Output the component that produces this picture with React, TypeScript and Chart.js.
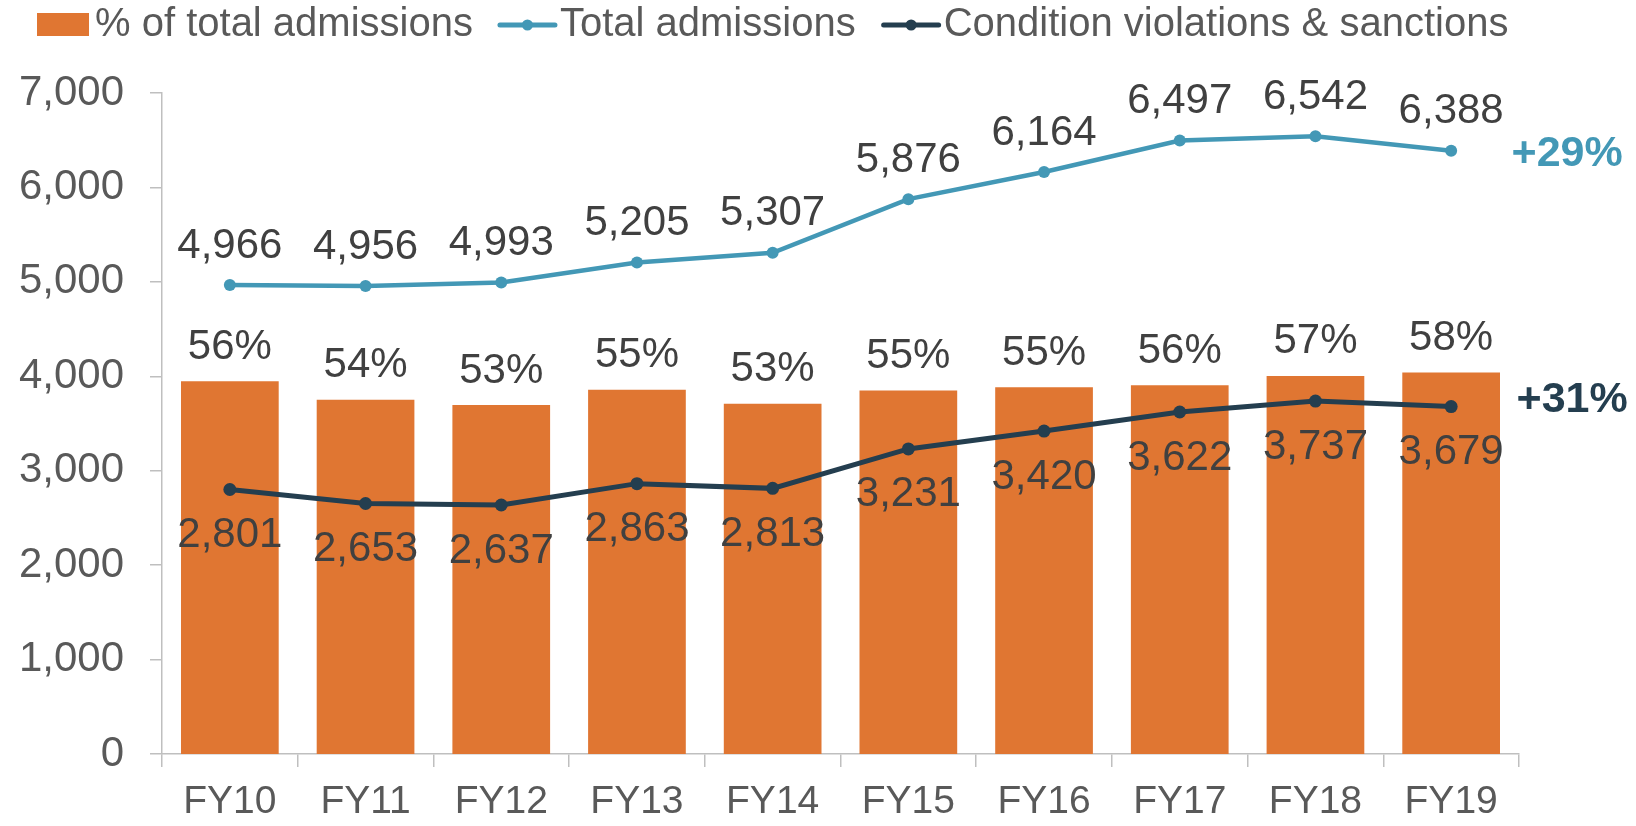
import React, { useEffect, useRef } from "react";
import { Chart, registerables } from "chart.js";

Chart.register(...registerables);

const categories = ["FY10", "FY11", "FY12", "FY13", "FY14", "FY15", "FY16", "FY17", "FY18", "FY19"];
const pctValues = [56.4, 53.6, 52.8, 55.1, 53.0, 55.0, 55.5, 55.8, 57.2, 57.7];
const pctLabels = ["56%", "54%", "53%", "55%", "53%", "55%", "55%", "56%", "57%", "58%"];
const totalAdmissions = [4966, 4956, 4993, 5205, 5307, 5876, 6164, 6497, 6542, 6388];
const violations = [2801, 2653, 2637, 2863, 2813, 3231, 3420, 3622, 3737, 3679];
const changeTotal = "+29%";
const changeViolations = "+31%";
const seriesNames = ["% of total admissions", "Total admissions", "Condition violations & sanctions"];

const ORANGE = "#E07632";
const TEAL = "#4398B6";
const NAVY = "#243E4F";
const LABEL = "#404040";
const TICK = "#595959";
const AXIS = "#BFBFBF";
const FONT = '"Liberation Sans", Arial, sans-serif';

const fmt = (v: number) => v.toLocaleString("en-US");

const labelPlugin = {
  id: "labels",
  afterDatasetsDraw(chart: any) {
    const ctx = chart.ctx;
    ctx.save();
    ctx.textAlign = "center";
    ctx.textBaseline = "middle";
    ctx.font = `42px ${FONT}`;
    ctx.fillStyle = LABEL;
    const bars = chart.getDatasetMeta(0).data;
    bars.forEach((el: any, i: number) => ctx.fillText(pctLabels[i], el.x, el.y - 34));
    const viol = chart.getDatasetMeta(2).data;
    viol.forEach((el: any, i: number) => ctx.fillText(fmt(violations[i]), el.x, el.y + 46));
    const tot = chart.getDatasetMeta(1).data;
    tot.forEach((el: any, i: number) => ctx.fillText(fmt(totalAdmissions[i]), el.x, el.y - 39));
    ctx.font = `bold 43px ${FONT}`;
    const lt = tot[tot.length - 1];
    ctx.fillStyle = TEAL;
    ctx.fillText(changeTotal, lt.x + 116, lt.y + 3);
    const lv = viol[viol.length - 1];
    ctx.fillStyle = NAVY;
    ctx.fillText(changeViolations, lv.x + 121, lv.y - 6);
    ctx.restore();
  },
  afterDraw(chart: any) {
    const ctx = chart.ctx;
    ctx.save();
    ctx.font = `40px ${FONT}`;
    ctx.textBaseline = "middle";
    ctx.textAlign = "left";
    const cy = 25;
    let x = 37;
    ctx.fillStyle = ORANGE;
    ctx.fillRect(x, cy - 12, 52, 23);
    x += 52 + 6;
    ctx.fillStyle = TICK;
    ctx.fillText(seriesNames[0], x, cy);
    x += ctx.measureText(seriesNames[0]).width + 27;
    const drawLineItem = (color: string, name: string) => {
      ctx.strokeStyle = color;
      ctx.lineWidth = 5;
      ctx.lineCap = "round";
      ctx.beginPath();
      ctx.moveTo(x, cy);
      ctx.lineTo(x + 55, cy);
      ctx.stroke();
      ctx.fillStyle = color;
      ctx.beginPath();
      ctx.arc(x + 27.5, cy, 5.5, 0, Math.PI * 2);
      ctx.fill();
      x += 60;
      ctx.fillStyle = TICK;
      ctx.fillText(name, x, cy);
      x += ctx.measureText(name).width + 28;
    };
    drawLineItem(TEAL, seriesNames[1]);
    drawLineItem(NAVY, seriesNames[2]);
    ctx.restore();
  },
};

export default function App() {
  const ref = useRef<HTMLCanvasElement>(null);
  useEffect(() => {
    document.body.style.margin = "0";
    const canvas = ref.current!;
    const chart = new Chart(canvas, {
      type: "bar",
      data: {
        labels: categories,
        datasets: [
          {
            type: "bar",
            label: seriesNames[0],
            data: pctValues,
            backgroundColor: ORANGE,
            yAxisID: "y2",
            barPercentage: 0.72,
            categoryPercentage: 1,
            order: 3,
          } as any,
          {
            type: "line",
            label: seriesNames[1],
            data: totalAdmissions,
            borderColor: TEAL,
            backgroundColor: TEAL,
            borderWidth: 4.5,
            pointRadius: 6,
            pointBackgroundColor: TEAL,
            pointBorderWidth: 0,
            yAxisID: "y",
            order: 1,
          },
          {
            type: "line",
            label: seriesNames[2],
            data: violations,
            borderColor: NAVY,
            backgroundColor: NAVY,
            borderWidth: 5,
            pointRadius: 6.5,
            pointBackgroundColor: NAVY,
            pointBorderWidth: 0,
            yAxisID: "y",
            order: 2,
          },
        ],
      },
      options: {
        responsive: false,
        animation: false,
        layout: { padding: { top: 93, right: 117, left: 0, bottom: 0 } },
        plugins: { legend: { display: false }, tooltip: { enabled: false } },
        scales: {
          x: {
            grid: { display: true, drawOnChartArea: false, drawTicks: true, tickLength: 13, color: AXIS, lineWidth: 1.5, offset: true },
            border: { display: true, color: AXIS, width: 1.5 },
            ticks: { color: TICK, font: { size: 39, family: FONT }, padding: 12 },
            afterFit: (s: any) => { s.height = 72; },
          },
          y: {
            position: "left",
            min: 0,
            max: 7000,
            grid: { display: true, drawOnChartArea: false, drawTicks: true, tickLength: 12, color: AXIS, lineWidth: 1.5 },
            border: { display: true, color: AXIS, width: 1.5 },
            ticks: { stepSize: 1000, color: TICK, font: { size: 42, family: FONT }, padding: 26, callback: (v: any) => fmt(Number(v)) },
            afterFit: (s: any) => { s.width = 162; },
          },
          y2: { display: false, min: 0, max: 100 },
        },
      },
      plugins: [labelPlugin],
    });
    return () => chart.destroy();
  }, []);
  return <canvas ref={ref} width={1636} height={826} style={{ display: "block", width: 1636, height: 826 }} />;
}
